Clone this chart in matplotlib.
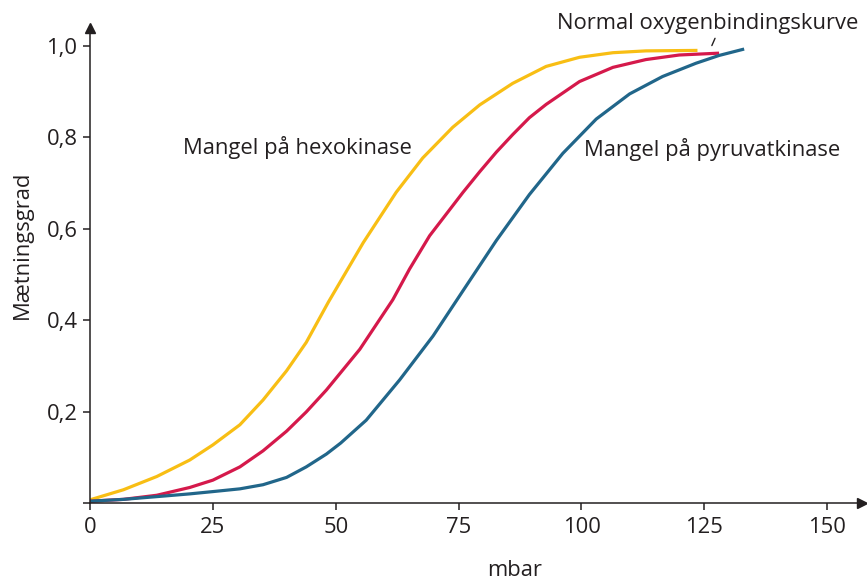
import numpy as np
import matplotlib.pyplot as plt

# Data
mbar_hexo = [0, 6.8, 13.6, 20.3, 25, 30.5, 35.2, 40, 44, 48.5, 55.6, 62.3, 67.7, 73.8, 79.3, 86,
             92.8, 99.6, 106.4, 113.1, 123.6]
sat_hexo = [0.008, 0.030, 0.059, 0.095, 0.128, 0.172, 0.226, 0.29, 0.352, 0.44, 0.57, 0.68, 0.755,
            0.822, 0.871, 0.918, 0.955, 0.975, 0.985, 0.989, 0.99]

mbar_norm = [0, 6.8, 13.6, 20.3, 25, 30.5, 35.2, 40, 44, 48.1, 54.9, 61.6, 65, 69.1, 75.9, 79.3, 82.7,
             86, 89.4, 92.8, 99.6, 106.4, 113.1, 119.9, 128]
sat_norm = [0.005, 0.009, 0.018, 0.035, 0.051, 0.080, 0.115, 0.158, 0.200, 0.248, 0.337, 0.445, 0.512,
            0.585, 0.68, 0.725, 0.768, 0.806, 0.843, 0.872, 0.922, 0.953, 0.970, 0.980, 0.984]

mbar_pyru = [0, 6.8, 13.6, 20.3, 25, 30.5, 35.2, 40, 44, 48.1, 51, 56.2, 63, 69.8, 75.9, 82.7, 89.4,
             96.2, 103, 109.8, 116.5, 123.3, 128, 133.1]
sat_pyru = [0.005, 0.009, 0.015, 0.021, 0.026, 0.032, 0.041, 0.057, 0.080, 0.108, 0.132, 0.182, 0.27,
            0.366, 0.465, 0.575, 0.675, 0.765, 0.84, 0.895, 0.933, 0.962, 0.979, 0.993]

x_ticks = [0, 25, 50, 75, 100, 125, 150]
y_ticks = [0, 0.2, 0.4, 0.6, 0.8, 1.0]
y_ticklabels = ["", "0,2", "0,4", "0,6", "0,8", "1,0"]

tekst = "#231f20"
plt.rcParams['font.family'] = ['Open Sans', 'DejaVu Sans']
fs = 15.8

fig = plt.figure(figsize=(8.67, 5.82), dpi=100)
ax = fig.add_axes([0.1038, 0.1349, 0.890, 0.817])

ax.plot(mbar_hexo, sat_hexo, color="#F8BE14", lw=2.3, solid_capstyle='butt')
ax.plot(mbar_norm, sat_norm, color="#D5194B", lw=2.3, solid_capstyle='butt')
ax.plot(mbar_pyru, sat_pyru, color="#21668A", lw=2.3, solid_capstyle='butt')

ax.set_xlim(0, 157)
ax.set_ylim(0, 1.039)
ax.spines['top'].set_visible(False)
ax.spines['right'].set_visible(False)
for s in ('left', 'bottom'):
    ax.spines[s].set_linewidth(1.1)
    ax.spines[s].set_color(tekst)

# pile på akserne
ax.plot(1, 0, ">", color=tekst, ms=7.5, transform=ax.get_yaxis_transform(), clip_on=False)
ax.plot(0, 1, "^", color=tekst, ms=7.5, transform=ax.get_xaxis_transform(), clip_on=False)

ax.set_xticks(x_ticks)
ax.set_yticks(y_ticks)
ax.set_yticklabels(y_ticklabels)
ax.tick_params(direction='out', length=5, width=1.1, color=tekst, labelsize=fs,
               labelcolor=tekst)
ax.tick_params(axis='x', pad=5)
ax.tick_params(axis='y', pad=4)

fig.text(515 / 867, 1 - 570 / 582, "mbar", ha='center', va='center', fontsize=fs, color=tekst)
fig.text(22 / 867, 1 - 245 / 582, "Mætningsgrad", rotation=90, ha='center', va='center',
         fontsize=fs, color=tekst)

ax.text(18.9, 0.777, "Mangel på hexokinase", fontsize=fs, color=tekst, va='center')
ax.text(100.6, 0.773, "Mangel på pyruvatkinase", fontsize=fs, color=tekst, va='center')
ax.text(95.1, 1.048, "Normal oxygenbindingskurve", fontsize=fs, color=tekst, va='center',
        clip_on=False)
ax.annotate("", xy=(126.3, 0.995), xytext=(127.4, 1.022),
            arrowprops=dict(arrowstyle='-', color=tekst, lw=1), annotation_clip=False)

fig.savefig("out.png", dpi=100)
